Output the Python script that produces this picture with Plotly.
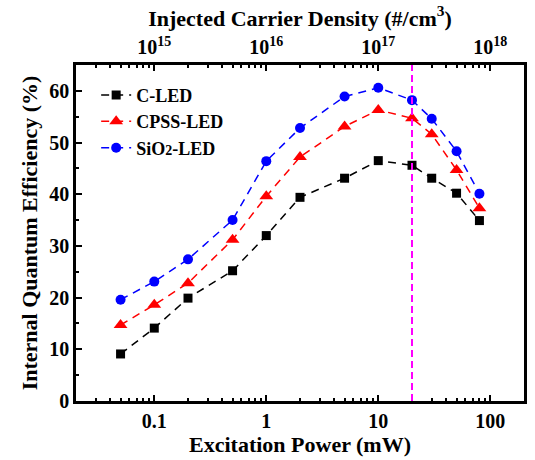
import numpy as np
import plotly.graph_objects as go

# ---- data ----
power_mw = [0.05, 0.1, 0.2, 0.5, 1, 2, 5, 10, 20, 30, 50, 80]
iqe_c_led = [9.1, 14.1, 19.9, 25.2, 32.0, 39.4, 43.1, 46.5, 45.6, 43.1, 40.2, 34.9]
iqe_cpss_led = [14.7, 18.6, 22.8, 31.2, 39.6, 47.2, 53.1, 56.3, 54.7, 51.6, 44.7, 37.3]
iqe_sio2_led = [19.6, 23.1, 27.4, 35.0, 46.4, 52.8, 58.9, 60.6, 58.2, 54.6, 48.3, 40.1]
series_names = ["C-LED", "CPSS-LED", "SiO<span style='font-size:14px'>2</span>-LED"]
mark_power = 20          # vertical dashed marker (mW)
density_per_mw = 1e16    # top axis: carrier density per mW
x_range_mw = [0.02, 200]
y_range = [0, 65]

FONT = "Liberation Serif"

fig = go.Figure()
styles = [
    dict(color="black", symbol="square", size=9),
    dict(color="red", symbol="triangle-up", size=12),
    dict(color="blue", symbol="circle", size=10),
]
for name, vals, st in zip(series_names, [iqe_c_led, iqe_cpss_led, iqe_sio2_led], styles):
    fig.add_trace(go.Scatter(
        x=power_mw, y=vals, name=name, mode="lines+markers",
        line=dict(color=st["color"], width=1.5, dash="8px,6px"),
        marker=dict(color=st["color"], symbol=st["symbol"], size=st["size"], line=dict(width=0)),
    ))

# invisible trace so the top (carrier density) axis is drawn
fig.add_trace(go.Scatter(
    x=[p * density_per_mw for p in power_mw], y=iqe_c_led, xaxis="x2", yaxis="y",
    mode="markers", marker=dict(opacity=0), showlegend=False, hoverinfo="skip",
))

fig.add_shape(type="line", xref="x", yref="paper", x0=mark_power, x1=mark_power, y0=0, y1=1,
              line=dict(color="#ff00ff", width=2, dash="7px,4px"))

tickfont = dict(family=FONT, size=20, color="black", weight="bold")
titlefont = dict(family=FONT, size=22, color="black", weight="bold")

fig.update_layout(
    width=535, height=460,
    margin=dict(l=76, r=8, t=65, b=59),
    plot_bgcolor="white", paper_bgcolor="white",
    showlegend=True,
    legend=dict(x=0.045, y=0.965, xanchor="left", yanchor="top",
                font=dict(family=FONT, size=18, color="black", weight="bold"),
                bgcolor="rgba(0,0,0,0)", tracegroupgap=0, itemwidth=30),
    xaxis=dict(
        type="log", range=[np.log10(x_range_mw[0]), np.log10(x_range_mw[1])],
        tickvals=[0.1, 1, 10, 100], ticktext=["0.1", "1", "10", "100"],
        ticks="inside", ticklen=6, tickwidth=2, tickcolor="black",
        minor=dict(ticks="inside", ticklen=3, tickwidth=2, tickcolor="black",
                   tickvals=[m * d for d in [0.01, 0.1, 1, 10, 100] for m in range(2, 10)]),
        showline=True, linewidth=2.5, linecolor="black", mirror=True,
        showgrid=False, zeroline=False, tickfont=tickfont,
        title=dict(text="Excitation Power (mW)", font=titlefont, standoff=2),
    ),
    xaxis2=dict(
        type="log", overlaying="x", side="top", anchor="y",
        range=[np.log10(x_range_mw[0] * density_per_mw), np.log10(x_range_mw[1] * density_per_mw)],
        tickvals=[1e15, 1e16, 1e17, 1e18],
        ticktext=["10<sup>15</sup>", "10<sup>16</sup>", "10<sup>17</sup>", "10<sup>18</sup>"],
        ticks="inside", ticklen=6, tickwidth=2, tickcolor="black",
        minor=dict(ticks="inside", ticklen=3, tickwidth=2, tickcolor="black",
                   tickvals=[m * d for d in [1e14, 1e15, 1e16, 1e17, 1e18] for m in range(2, 10)]),
        showline=True, linewidth=2.5, linecolor="black",
        showgrid=False, zeroline=False, tickfont=tickfont,
        title=dict(text="Injected Carrier Density (#/cm<sup>3</sup>)", font=titlefont, standoff=2),
    ),
    yaxis=dict(
        range=y_range, dtick=10, tick0=0,
        ticks="inside", ticklen=6, tickwidth=2, tickcolor="black",
        minor=dict(dtick=5, ticks="inside", ticklen=3, tickwidth=2, tickcolor="black"),
        showline=True, linewidth=2.5, linecolor="black", mirror=True,
        showgrid=False, zeroline=False, tickfont=tickfont,
        title=dict(text="Internal Quantum Efficiency (%)", font=titlefont, standoff=6),
    ),
)

fig.write_html("out.html")
